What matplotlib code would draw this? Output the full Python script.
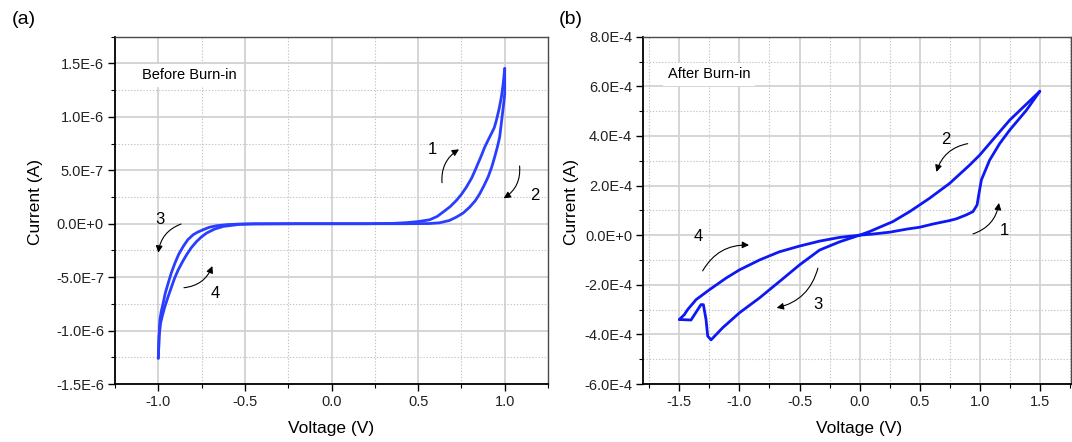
import matplotlib
matplotlib.use('Agg')
import matplotlib.pyplot as plt
from matplotlib.ticker import MultipleLocator
from matplotlib import font_manager as fm

names = {f.name for f in fm.fontManager.ttflist}
base = 'Liberation Sans' if 'Liberation Sans' in names else 'DejaVu Sans'
narrow = 'Liberation Sans Narrow' if 'Liberation Sans Narrow' in names else base
plt.rcParams['font.family'] = [base, 'DejaVu Sans']

# ---------------- data: panel (a) Before Burn-in (current in units of 1e-6 A) ----------------
a_v1 = [0.0, 0.2, 0.35, 0.432, 0.5, 0.567, 0.61, 0.644, 0.685, 0.721, 0.75, 0.779, 0.81,
        0.837, 0.862, 0.885, 0.905, 0.923, 0.94, 0.952, 0.967, 0.981, 0.992, 1.0]
a_i1 = [0.0, 0.0, 0.003, 0.01, 0.02, 0.037, 0.068, 0.109, 0.16, 0.218, 0.275, 0.343, 0.43,
        0.53, 0.625, 0.718, 0.785, 0.843, 0.90, 0.968, 1.07, 1.187, 1.32, 1.453]
a_v2 = [1.0, 1.0, 0.996, 0.987, 0.971, 0.958, 0.942, 0.925, 0.904, 0.88, 0.856, 0.83, 0.798,
        0.76, 0.721, 0.68, 0.625, 0.567, 0.5, 0.4, 0.2, 0.0]
a_i2 = [1.453, 1.218, 1.15, 1.03, 0.812, 0.72, 0.624, 0.53, 0.437, 0.355, 0.281, 0.215, 0.156,
        0.10, 0.062, 0.03, 0.009, 0.002, 0.001, 0.0, 0.0, 0.0]
a_v3 = [0.0, -0.2, -0.45, -0.53, -0.6, -0.664, -0.705, -0.741, -0.772, -0.799, -0.83, -0.856,
        -0.882, -0.904, -0.925, -0.943, -0.96, -0.972, -0.983, -0.991, -0.996, -1.0]
a_i3 = [0.0, 0.0, -0.001, -0.003, -0.008, -0.019, -0.033, -0.056, -0.078, -0.103, -0.15, -0.212,
        -0.285, -0.368, -0.46, -0.556, -0.65, -0.743, -0.82, -0.90, -1.05, -1.259]
a_v4 = [-1.0, -0.995, -0.987, -0.975, -0.962, -0.943, -0.923, -0.905, -0.885, -0.86, -0.837,
        -0.81, -0.779, -0.75, -0.721, -0.675, -0.625, -0.53, -0.45, -0.2, 0.0]
a_i4 = [-1.259, -1.05, -0.93, -0.85, -0.775, -0.68, -0.587, -0.505, -0.431, -0.355, -0.291,
        -0.225, -0.166, -0.122, -0.087, -0.05, -0.025, -0.006, -0.002, 0.0, 0.0]
a_scale = 1e-6

a_xticks = [-1.0, -0.5, 0.0, 0.5, 1.0]
a_xlabels = ['-1.0', '-0.5', '0.0', '0.5', '1.0']
a_yticks = [-1.5e-6, -1.0e-6, -5.0e-7, 0.0, 5.0e-7, 1.0e-6, 1.5e-6]
a_ylabels = ['-1.5E-6', '-1.0E-6', '-5.0E-7', '0.0E+0', '5.0E-7', '1.0E-6', '1.5E-6']

# ---------------- data: panel (b) After Burn-in (current in units of 1e-4 A) ----------------
b_v1 = [0.0, 0.1, 0.25, 0.4, 0.5, 0.611, 0.75, 0.806, 0.889, 0.944, 0.978, 0.994, 1.014,
        1.083, 1.167, 1.25, 1.389, 1.5]
b_i1 = [0.0, 0.04, 0.12, 0.25, 0.32, 0.45, 0.59, 0.66, 0.82, 0.95, 1.22, 1.69, 2.23, 3.03,
        3.70, 4.24, 5.04, 5.80]
b_v2 = [1.5, 1.25, 1.083, 1.0, 0.917, 0.75, 0.583, 0.417, 0.278, 0.083, 0.0]
b_i2 = [5.80, 4.64, 3.70, 3.23, 2.83, 2.09, 1.49, 0.95, 0.55, 0.145, 0.0]
b_v3 = [0.0, -0.167, -0.333, -0.5, -0.667, -0.833, -1.0, -1.139, -1.236, -1.264, -1.278,
        -1.30, -1.32, -1.403, -1.5]
b_i3 = [0.0, -0.27, -0.60, -1.20, -1.87, -2.53, -3.13, -3.73, -4.22, -4.07, -3.40, -2.80,
        -2.80, -3.42, -3.40]
b_v4 = [-1.5, -1.458, -1.431, -1.361, -1.25, -1.111, -1.0, -0.833, -0.667, -0.5, -0.333,
        -0.167, 0.0]
b_i4 = [-3.40, -3.20, -3.0, -2.6, -2.2, -1.73, -1.40, -1.0, -0.67, -0.44, -0.24, -0.09, 0.0]
b_scale = 1e-4

b_xticks = [-1.5, -1.0, -0.5, 0.0, 0.5, 1.0, 1.5]
b_xlabels = ['-1.5', '-1.0', '-0.5', '0.0', '0.5', '1.0', '1.5']
b_yticks = [-6e-4, -4e-4, -2e-4, 0.0, 2e-4, 4e-4, 6e-4, 8e-4]
b_ylabels = ['-6.0E-4', '-4.0E-4', '-2.0E-4', '0.0E+0', '2.0E-4', '4.0E-4', '6.0E-4', '8.0E-4']

# ---------------- figure ----------------
fig = plt.figure(figsize=(10.72, 4.42), dpi=100)
axa = fig.add_axes([0.1073, 0.1312, 0.4039, 0.7857])
axb = fig.add_axes([0.6001, 0.1312, 0.3990, 0.7857])


def style(ax, xminor, yminor):
    ax.set_axisbelow(True)
    ax.xaxis.set_minor_locator(MultipleLocator(xminor))
    ax.yaxis.set_minor_locator(MultipleLocator(yminor))
    ax.grid(which='major', color='#d2d2d2', lw=1.3, ls='-')
    ax.grid(which='minor', color='#c4c4c4', lw=0.8, ls=(0, (1.2, 1.6)))
    ax.tick_params(which='both', direction='out', top=False, right=False,
                   colors='black', labelcolor='#222222')
    ax.tick_params(which='major', length=5, width=1.0, labelsize=10.5, pad=3)
    ax.tick_params(which='minor', length=3, width=0.8)
    for s in ['left', 'bottom']:
        ax.spines[s].set_color('black')
        ax.spines[s].set_linewidth(1.3)
    for s in ['top', 'right']:
        ax.spines[s].set_color('#4a4a4a')
        ax.spines[s].set_linewidth(1.0)
    ax.set_xlabel('Voltage (V)', fontsize=12.5)
    ax.set_ylabel('Current (A)', fontsize=12.5)


def arrow(ax, start, end, rad):
    ax.annotate('', xy=end, xytext=start,
                arrowprops=dict(arrowstyle='-|>', connectionstyle=f'arc3,rad={rad}',
                                color='black', lw=0.8, mutation_scale=10,
                                shrinkA=0, shrinkB=0))


# panel (a)
style(axa, 0.25, 2.5e-7)
for v, i in [(a_v1, a_i1), (a_v2, a_i2), (a_v3, a_i3), (a_v4, a_i4)]:
    axa.plot(v, [x * a_scale for x in i], color='#2a3eff', lw=2.0,
             solid_joinstyle='round', solid_capstyle='round', zorder=3)
axa.set_xlim(-1.25, 1.25)
axa.set_ylim(-1.5e-6, 1.75e-6)
axa.set_xticks(a_xticks, a_xlabels)
axa.set_yticks(a_yticks, a_ylabels)
axa.xaxis.set_label_coords(0.5, -0.106)
axa.yaxis.set_label_coords(-0.166, 0.525)
axa.text(-1.095, 1.39e-6, 'Before Burn-in', family=[narrow, base], fontsize=10.5,
         va='center', ha='left',
         bbox=dict(boxstyle='square,pad=0.3', fc='white', ec='none'), zorder=2)
arrow(axa, (0.638, 0.384e-6), (0.736, 0.696e-6), -0.3)
arrow(axa, (1.086, 0.54e-6), (0.994, 0.238e-6), -0.3)
arrow(axa, (-0.869, -0.003e-6), (-1.0, -0.271e-6), 0.3)
arrow(axa, (-0.852, -0.599e-6), (-0.688, -0.396e-6), 0.3)
for s, (x, y) in zip(['1', '2', '3', '4'],
                     [(0.58, 0.69e-6), (1.176, 0.262e-6), (-0.99, 0.04e-6), (-0.673, -0.65e-6)]):
    axa.text(x, y, s, fontsize=12, ha='center', va='center')

# panel (b)
style(axb, 0.25, 1e-4)
for v, i in [(b_v1, b_i1), (b_v2, b_i2), (b_v3, b_i3), (b_v4, b_i4)]:
    axb.plot(v, [x * b_scale for x in i], color='#0e18f5', lw=2.0,
             solid_joinstyle='round', solid_capstyle='round', zorder=3)
axb.set_xlim(-1.8, 1.76)
axb.set_ylim(-6e-4, 8e-4)
axb.set_xticks(b_xticks, b_xlabels)
axb.set_yticks(b_yticks, b_ylabels)
axb.xaxis.set_label_coords(0.505, -0.106)
axb.yaxis.set_label_coords(-0.150, 0.525)
axb.text(-1.596, 6.49e-4, 'After Burn-in', family=[narrow, base], fontsize=10.5,
         va='center', ha='left',
         bbox=dict(boxstyle='square,pad=0.3', fc='white', ec='none'), zorder=2)
arrow(axb, (0.944, 0.05e-4), (1.16, 1.30e-4), 0.3)
arrow(axb, (0.90, 3.69e-4), (0.64, 2.55e-4), 0.3)
arrow(axb, (-0.347, -1.33e-4), (-0.69, -2.93e-4), -0.3)
arrow(axb, (-1.306, -1.44e-4), (-0.92, -0.40e-4), -0.3)
for s, (x, y) in zip(['1', '2', '3', '4'],
                     [(1.208, 0.19e-4), (0.72, 3.85e-4), (-0.347, -2.8e-4), (-1.34, -0.07e-4)]):
    axb.text(x, y, s, fontsize=12, ha='center', va='center')

fig.text(24 / 1072, 1 - 19 / 442, '(a)', fontsize=14, ha='center', va='center')
fig.text(571 / 1072, 1 - 19 / 442, '(b)', fontsize=14, ha='center', va='center')

fig.savefig('out.png', dpi=100)
